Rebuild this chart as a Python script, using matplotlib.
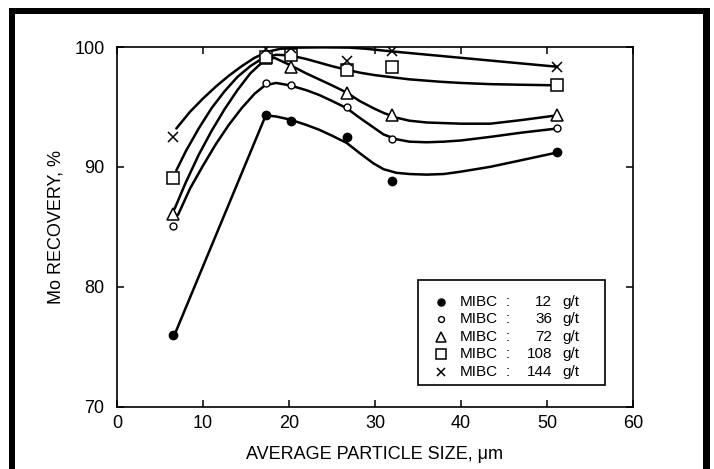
import matplotlib
matplotlib.use("Agg")
import matplotlib.pyplot as plt
from matplotlib.patches import Rectangle

plt.rcParams['font.family'] = ['Liberation Sans', 'DejaVu Sans']

# ---- data ----
size_um = [6.5, 17.3, 20.2, 26.7, 32.0, 51.2]
rec_12 = [76.0, 94.3, 93.8, 92.5, 88.8, 91.2]
rec_36 = [85.1, 97.0, 96.8, 95.0, 92.3, 93.2]
rec_72 = [86.1, 99.1, 98.3, 96.2, 94.3, 94.3]
rec_108 = [89.1, 99.2, 99.3, 98.1, 98.3, 96.8]
rec_144 = [92.5, 99.8, 99.9, 98.8, 99.7, 98.3]

# hand-drawn fitted curves
fit_12_x = [6.7, 17.3, 18.5, 20.1, 22, 23.5, 25, 26.7, 28.3, 29.8, 31, 32.5, 34, 36, 38, 40, 43.4, 47, 51.2]
fit_12_y = [76.0, 94.3, 94.2, 93.95, 93.5, 93.1, 92.6, 92.0, 91.1, 90.3, 89.8, 89.5, 89.4, 89.35, 89.4, 89.6, 90.0, 90.55, 91.2]
fit_36_x = [7.1, 8.5, 10, 11.5, 13, 14.5, 16, 17.2, 18.5, 20.1, 22, 23.5, 25, 26.7, 28.2, 29.8, 31, 32.5, 34, 36, 38, 40, 43.4, 47, 51.2]
fit_36_y = [86.0, 88.2, 90.1, 91.9, 93.5, 94.9, 96.1, 96.8, 97.0, 96.8, 96.4, 96.0, 95.5, 94.9, 94.1, 93.3, 92.7, 92.3, 92.1, 92.05, 92.1, 92.2, 92.5, 92.85, 93.2]
fit_72_x = [6.7, 8, 9.5, 11, 12.5, 14, 15.5, 17, 18.3, 20.1, 22, 23.5, 25, 26.7, 28.2, 29.8, 31, 32.5, 34, 36, 38, 40, 43.4, 47, 51.2]
fit_72_y = [86.5, 88.7, 91.0, 93.0, 94.8, 96.4, 97.8, 98.8, 99.1, 98.5, 97.8, 97.3, 96.8, 96.2, 95.5, 94.9, 94.5, 94.1, 93.85, 93.7, 93.65, 93.6, 93.6, 93.9, 94.3]
fit_108_x = [6.9, 8, 9.5, 11, 12.5, 14, 15.5, 17, 18.5, 20.1, 22, 23.5, 25, 26.7, 28.3, 30, 31.7, 34, 37.6, 40, 43.4, 47, 51.2]
fit_108_y = [89.7, 91.3, 93.2, 94.9, 96.3, 97.5, 98.4, 99.1, 99.35, 99.3, 99.0, 98.7, 98.4, 98.1, 97.85, 97.65, 97.5, 97.3, 97.1, 97.0, 96.9, 96.85, 96.8]
fit_144_x = [6.9, 8.5, 10, 11.5, 13, 14.5, 16, 17.5, 19, 21, 24, 27, 29, 31.7, 51.2]
fit_144_y = [93.2, 94.6, 95.7, 96.7, 97.6, 98.4, 99.1, 99.6, 99.85, 99.95, 99.97, 99.95, 99.85, 99.65, 98.35]

doses = ['12', '36', '72', '108', '144']
x_ticks = [0, 10, 20, 30, 40, 50, 60]
y_ticks = [70, 80, 90, 100]

series = [
    (rec_12, fit_12_x, fit_12_y, dict(marker='o', ms=6, mfc='black', mec='black', mew=1)),
    (rec_36, fit_36_x, fit_36_y, dict(marker='o', ms=5, mfc='white', mec='black', mew=1)),
    (rec_72, fit_72_x, fit_72_y, dict(marker='^', ms=9, mfc='white', mec='black', mew=1.1)),
    (rec_108, fit_108_x, fit_108_y, dict(marker='s', ms=8.5, mfc='white', mec='black', mew=1.1)),
    (rec_144, fit_144_x, fit_144_y, dict(marker='x', ms=6.5, mfc='none', mec='black', mew=1.1)),
]

fig = plt.figure(figsize=(7.14, 4.69), dpi=100)
ax = fig.add_axes([117 / 714, 1 - 406.5 / 469, 516 / 714, 359.5 / 469])

for rec, fx, fy, st in series:
    ax.plot(fx, fy, color='black', lw=1.8, solid_capstyle='round', zorder=2)
    ax.plot(size_um, rec, linestyle='none', zorder=3, **st)

ax.set_xlim(0, 60)
ax.set_ylim(70, 100)
ax.set_xticks(x_ticks)
ax.set_yticks(y_ticks)
ax.tick_params(direction='in', length=5, width=1.1, labelsize=13,
               top=True, right=True, colors='black')
ax.tick_params(axis='x', pad=6)
ax.tick_params(axis='y', pad=9)
for s in ax.spines.values():
    s.set_linewidth(1.2)

ax.set_xlabel('AVERAGE PARTICLE SIZE, μm', fontsize=13, labelpad=10)
ax.set_ylabel('Mo RECOVERY, %', fontsize=13, labelpad=7)

# legend box drawn manually (aligned columns)
ax.add_patch(Rectangle((0.583, 0.060), 0.363, 0.292, transform=ax.transAxes,
                       facecolor='white', edgecolor='black', lw=1.2, zorder=5))
row_y = [0.2915, 0.2428, 0.194, 0.1455, 0.0968]
for (rec, fx, fy, st), d, yy in zip(series, doses, row_y):
    lst = dict(st)
    lst['ms'] = lst['ms'] * 0.85
    ax.plot([0.627], [yy], linestyle='none', transform=ax.transAxes, zorder=6,
            clip_on=False, **lst)
    ax.text(0.665, yy, 'MIBC', transform=ax.transAxes, fontsize=11,
            va='center', ha='left', zorder=6)
    ax.text(0.758, yy, ':', transform=ax.transAxes, fontsize=11,
            va='center', ha='center', zorder=6)
    ax.text(0.843, yy, d, transform=ax.transAxes, fontsize=11,
            va='center', ha='right', zorder=6)
    ax.text(0.864, yy, 'g/t', transform=ax.transAxes, fontsize=11,
            va='center', ha='left', zorder=6)

# thick page frame (top, left, right)
fig.add_artist(Rectangle((9 / 714, 0), 6 / 714, 1 - 8 / 469, transform=fig.transFigure,
                         facecolor='black', edgecolor='none'))
fig.add_artist(Rectangle((703 / 714, 0), 7 / 714, 1 - 8 / 469, transform=fig.transFigure,
                         facecolor='black', edgecolor='none'))
fig.add_artist(Rectangle((9 / 714, 1 - 14 / 469), 701 / 714, 6 / 469, transform=fig.transFigure,
                         facecolor='black', edgecolor='none'))

fig.savefig('out.png', dpi=100)
